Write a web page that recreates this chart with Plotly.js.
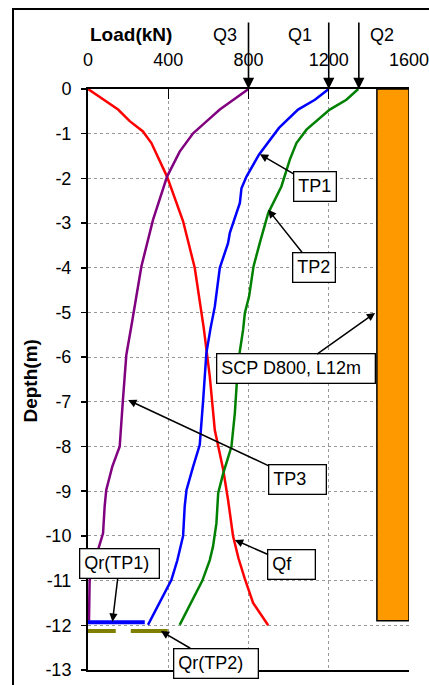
<!DOCTYPE html>
<html><head><meta charset="utf-8">
<script src="https://cdn.plot.ly/plotly-3.0.1.min.js"></script>
<style>
html,body{margin:0;padding:0;background:#fff;overflow:hidden}
#chart{position:absolute;left:0;top:0;width:429px;height:685px}
#frame{position:absolute;left:12px;top:8px;width:500px;height:800px;border:2px solid #000;pointer-events:none}
#dbg{position:absolute;left:95px;top:380px;width:330px;font:10px monospace;color:transparent;background:transparent;white-space:pre-wrap;pointer-events:none}
</style></head><body>
<div id="chart"></div><div id="frame"></div><div id="dbg"></div>
<script>
// ---- data ----
const qfDepth = [0,-0.46,-0.72,-0.95,-1.21,-1.96,-2.96,-4.0,-5.35,-6.43,-7.63,-8.52,-9.19,-10.0,-10.5,-10.95,-11.5,-12.0];
const qfLoad  = [0,150,208,274,316,394,474,532,577,607,632,674,698,723,750,781,823,898];

const tp3Depth = [0,-0.46,-0.69,-0.99,-1.4,-1.96,-2.93,-3.97,-5.31,-5.95,-6.96,-8.0,-8.45,-8.97,-9.34,-9.94,-10.31,-10.65,-11.0,-11.9];
const tp3Load  = [800,657,599,524,457,394,324,266,216,191,174,158,121,91,83,75,50,25,8,5];

const tp1Depth = [0,-0.24,-0.46,-0.87,-1.47,-1.96,-2.22,-2.55,-3.22,-3.45,-4.0,-4.87,-5.35,-5.91,-6.96,-7.96,-8.45,-8.97,-9.34,-10.0,-10.55,-10.98,-11.99];
const tp1Load  = [1200,1131,1047,952,852,790,765,757,707,698,657,632,611,590,574,557,524,491,482,474,445,416,299];

const tp2Depth = [0,-0.24,-0.46,-0.91,-1.21,-1.58,-2.18,-2.78,-3.45,-3.97,-4.64,-5.01,-5.39,-6.13,-7.25,-8.0,-8.6,-9.04,-9.72,-10.24,-10.54,-11.0,-11.99];
const tp2Load  = [1347,1288,1205,1089,1039,1006,964,898,856,825,803,782,773,748,732,715,674,649,640,623,607,570,457];

const qrTP1Load = [-33, 283];
const qrTP1Depth = -11.93;
const qrTP2Load = [-46, 397];
const qrTP2Depth = -12.13;

const pileLoadFrom = 1440;
const pileLoadTo = 1600;
const pileLength = 11.9;

const qNames = ['Q3','Q1','Q2'];
const qLoads = [800, 1200, 1350];

const xTickVals = [0,400,800,1200,1600];
const xTickText = ['0','400','800','1200','1600'];
const yTickVals = [0,-1,-2,-3,-4,-5,-6,-7,-8,-9,-10,-11,-12,-13];
const yTickText = ['0','-1','-2','-3','-4','-5','-6','-7','-8','-9','-10','-11','-12','-13'];

// ---- chart ----
const FONT = 'Liberation Sans, Arial, sans-serif';
const traces = [
  {type:'bar', x:[(pileLoadFrom+pileLoadTo)/2], y:[-pileLength], width:[pileLoadTo-pileLoadFrom], base:0,
   marker:{color:'#FF9900', line:{color:'#000', width:1.5}}, showlegend:false, hoverinfo:'skip'},
  {type:'scatter', mode:'lines', x:qfLoad, y:qfDepth, line:{color:'#FF0000', width:2.5}, showlegend:false},
  {type:'scatter', mode:'lines', x:tp3Load, y:tp3Depth, line:{color:'#800080', width:2.5}, showlegend:false},
  {type:'scatter', mode:'lines', x:tp1Load, y:tp1Depth, line:{color:'#0000FF', width:2.5}, showlegend:false},
  {type:'scatter', mode:'lines', x:tp2Load, y:tp2Depth, line:{color:'#008000', width:2.5}, showlegend:false},
  {type:'scatter', mode:'lines', x:qrTP1Load, y:[qrTP1Depth,qrTP1Depth], line:{color:'#0000FF', width:4}, showlegend:false, cliponaxis:false},
  {type:'scatter', mode:'lines', x:qrTP2Load, y:[qrTP2Depth,qrTP2Depth], line:{color:'#808000', width:4, dash:'37px,15px'}, showlegend:false, cliponaxis:false}
];

function box(text, x, y, ax, ay, w) {
  const a = {text:text, x:x, y:y, xref:'x', yref:'y', ax:ax, ay:ay, axref:'pixel', ayref:'pixel',
    showarrow:true, arrowhead:2, arrowsize:1.1, arrowwidth:1.5, arrowcolor:'#000', standoff:0,
    bgcolor:'#fff', bordercolor:'#000', borderwidth:1.3, borderpad:4,
    font:{family:FONT, size:18, color:'#000'}};
  if (w) { a.width = w; a.align = 'left'; }
  return a;
}

const annotations = [
  box('TP1', 857, -1.46, 55, 32),
  box('TP2', 898, -2.70, 46, 58),
  box('TP3', 200, -6.96, 169, 79, 48),
  box('SCP D800, L12m', 1431, -5.01, -79, 56, 149),
  box('Qf', 732, -10.09, 57, 25, 38),
  box('Qr(TP1)', 122, -11.92, 7, -58, 70),
  box('Qr(TP2)', 363, -12.13, 55, 32, 75),
  {text:'<b>Load(kN)</b>', xref:'paper', yref:'paper', x:0.134, y:1.093, xanchor:'center', yanchor:'middle', showarrow:false,
   font:{family:FONT, size:19, color:'#000'}},
  {text:'<b>Depth(m)</b>', xref:'paper', yref:'paper', x:-0.178, y:0.498, xanchor:'center', yanchor:'middle', showarrow:false, textangle:-90,
   font:{family:FONT, size:19, color:'#000'}}
];
const qLabelX = [0.4255, 0.660, 0.917];
qNames.forEach((n,i) => {
  annotations.push({text:n, xref:'paper', yref:'paper', x:qLabelX[i], y:1.093, xanchor:'center', yanchor:'middle', showarrow:false,
    font:{family:FONT, size:18, color:'#000'}});
  annotations.push({text:' ', x:qLoads[i], y:0, xref:'x', yref:'y', ax:0, ay:-69, axref:'pixel', ayref:'pixel',
    showarrow:true, arrowhead:2, arrowsize:1.4, arrowwidth:1.6, arrowcolor:'#000', standoff:0,
    font:{size:2}});
});

const layout = {
  width:429, height:685,
  margin:{l:88, r:20, t:89, b:15, pad:0},
  paper_bgcolor:'#fff', plot_bgcolor:'#fff',
  font:{family:FONT, size:18, color:'#000'},
  showlegend:false,
  bargap:0,
  xaxis:{side:'top', range:[0,1600], tickmode:'array', tickvals:xTickVals, ticktext:xTickText,
    ticks:'inside', ticklen:10, tickwidth:1, tickcolor:'#000',
    showline:true, linecolor:'#000', linewidth:2, mirror:true,
    showgrid:true, gridcolor:'#999', gridwidth:1, griddash:'dot',
    zeroline:false, ticklabelstandoff:14, ticklabeloverflow:'allow',
    tickfont:{family:FONT, size:18, color:'#000'}},
  yaxis:{range:[-13,0], tickmode:'array', tickvals:yTickVals, ticktext:yTickText,
    ticks:'outside', ticklen:5, tickwidth:1.5, tickcolor:'#000',
    showline:true, linecolor:'#000', linewidth:2, mirror:false,
    showgrid:true, gridcolor:'#999', gridwidth:1, griddash:'dot',
    zeroline:false, ticklabelstandoff:6, tickfont:{family:FONT, size:18, color:'#000'}},
  annotations:annotations
};

Plotly.newPlot('chart', traces, layout, {staticPlot:true, displayModeBar:false}).then(() => {
  // force layout / hit-test / repaint after drawing (keeps all tick labels painted)
  const out = [];
  document.querySelectorAll('.xtick text').forEach(t => {
    const r = t.getBoundingClientRect();
    out.push(t.textContent + ' ' + Math.round(r.x) + ',' + Math.round(r.y) + ',' + Math.round(r.width));
  });
  const e = document.elementFromPoint(168, 62);
  out.push(e ? e.tagName : 'none');
  document.getElementById('dbg').textContent = out.join('\n');
});
</script></body></html>
